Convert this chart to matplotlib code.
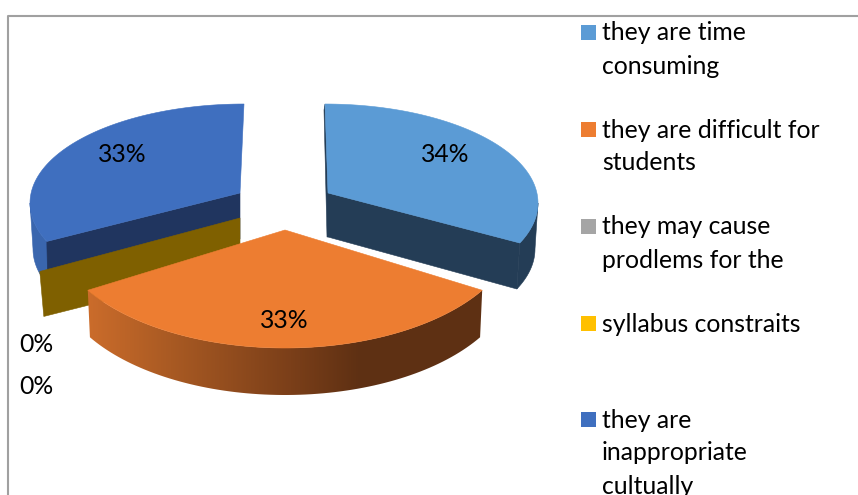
import numpy as np
import matplotlib
matplotlib.use('Agg')
import matplotlib.pyplot as plt
from matplotlib.patches import Polygon, Rectangle
from matplotlib.colors import to_rgb

shares = [34, 33, 0, 0, 33]
pct_labels = ['34%', '33%', '0%', '0%', '33%']
legend_lines = [
    ['they are time', 'consuming'],
    ['they are difficult for', 'students'],
    ['they may cause', 'prodlems for the'],
    ['syllabus constraits'],
    ['they are', 'inappropriate', 'cultually'],
]
colors = ['#5B9BD5', '#ED7D31', '#A5A5A5', '#FFC000', '#3F6FBF']
dark = {'s1': '#243D56', 's5': '#20355F', 's4': '#7F6000', 's5side': '#3A66AE'}

plt.rcParams['font.family'] = ['Lato', 'DejaVu Sans']
TEXT = 17.8

fig = plt.figure(figsize=(8.58, 4.95), dpi=100)
ax = fig.add_axes([0, 0, 1, 1])
ax.set_xlim(0, 858)
ax.set_ylim(495, 0)
ax.axis('off')

# chart frame, only left and top show
ax.plot([8, 8, 858], [495, 16, 16], color='#A0A0A0', lw=1.5, zorder=1)

# slice angles, clockwise from 12 o'clock
edges = np.cumsum([0] + shares) * 3.6
t = [(edges[i], edges[i + 1]) for i in range(len(shares))]


def arc(c, rx, ry, t0, t1, pivot=0, warp=1.0, n=80):
    a = np.radians(pivot + warp * (np.linspace(t0, t1, n) - pivot))
    return np.column_stack([c[0] + rx * np.sin(a), c[1] - ry * np.cos(a)])


def poly(pts, color, z):
    # thin edge of the same colour hides seams between neighbouring faces
    p = Polygon(pts, closed=True, fc=color, ec=color, lw=0.4, zorder=z)
    ax.add_patch(p)
    return p


# fifth slice, back left
apex5 = np.array([240, 193])
c5 = (244, 203)
top5 = arc(c5, 214, 99, t[4][0], t[4][1], 360, 0.95)
end5 = top5[0]
left_t = 360 - 90 / 0.95
side5 = arc(c5, 214, 99, t[4][0], left_t, 360, 0.95)
poly(np.vstack([side5, (side5 + [3, 46])[::-1]]), dark['s5side'], 2)
poly([apex5, end5, end5 + [1, 46], apex5 + [0, 46]], dark['s5'], 3)
poly(np.vstack([[apex5], top5]), colors[4], 5)

# the 0% slices only leave a wall behind the orange one
wall = np.array([apex5 + [0, 25], end5 + [-7, 30]])
poly([wall[0], wall[1], wall[1] + [4, 45], wall[0] + [0, 49]], dark['s4'], 4)

# first slice, back right
apex1 = np.array([328, 193])
c1 = (325, 203)
top1 = arc(c1, 213, 99, t[0][0], t[0][1], 0, 0.93)
end1 = top1[-1]
shift1 = np.array([-3, 46])
side1 = arc(c1, 213, 99, 90 / 0.93, t[0][1], 0, 0.93)
poly(np.vstack([side1, (side1 + shift1)[::-1]]), dark['s1'], 2)
poly([apex1, end1, end1 + shift1, apex1 + [0, 44]], dark['s1'], 3)
poly([top1[0] + [-1, 6], top1[0], apex1, apex1 + [0, 44], apex1 + [-1, 44]], dark['s1'], 3)
poly(np.vstack([[apex1], top1]), colors[0], 5)

# second slice, front, turned so that it sits square to the viewer
apex2 = np.array([285, 230])
c2 = (285, 226)
mid2 = sum(t[1]) / 2
t2 = (t[1][0] - (mid2 - 180), t[1][1] - (mid2 - 180))
top2 = arc(c2, 232, 122, t2[0], t2[1], 180, 0.98)
low2 = arc(c2, 229.5, 122, t2[0], t2[1], 180, 0.98) + [0, 47]
side2 = Polygon(np.vstack([top2, low2[::-1]]), closed=True, fc='none', ec='none', zorder=6)
ax.add_patch(side2)
stops_x = [88, 170, 290, 360, 482]
stops_c = [to_rgb(c) for c in ['#CB6C2B', '#A95A23', '#7B3F19', '#5E3013', '#5E3013']]
xs = np.arange(80, 490)
grad = np.stack([np.interp(xs, stops_x, [c[i] for c in stops_c]) for i in range(3)], axis=1)
im = ax.imshow(grad[np.newaxis, :, :], extent=(80, 490, 400, 280), aspect='auto', zorder=6)
im.set_clip_path(side2)
ax.set_xlim(0, 858)
ax.set_ylim(495, 0)
poly(np.vstack([[apex2], top2]), colors[1], 7)

# percentage labels
label_pos = [(445, 155), (284, 320), (36, 344), (36, 386), (122, 155)]
for s, (x, y) in zip(pct_labels, label_pos):
    ax.text(x, y, s, fontsize=TEXT, color='black', ha='center', va='center', zorder=9)

# legend
legend_y = [33, 130, 227, 324, 420]
for lines, col, y in zip(legend_lines, colors, legend_y):
    ax.add_patch(Rectangle((581, y - 8.5), 15, 15, fc=col, ec='none', zorder=9))
    for k, line in enumerate(lines):
        ax.text(602, y + k * 33, line, fontsize=TEXT, color='black', ha='left', va='center', zorder=9)

fig.savefig('out.png', dpi=100)
